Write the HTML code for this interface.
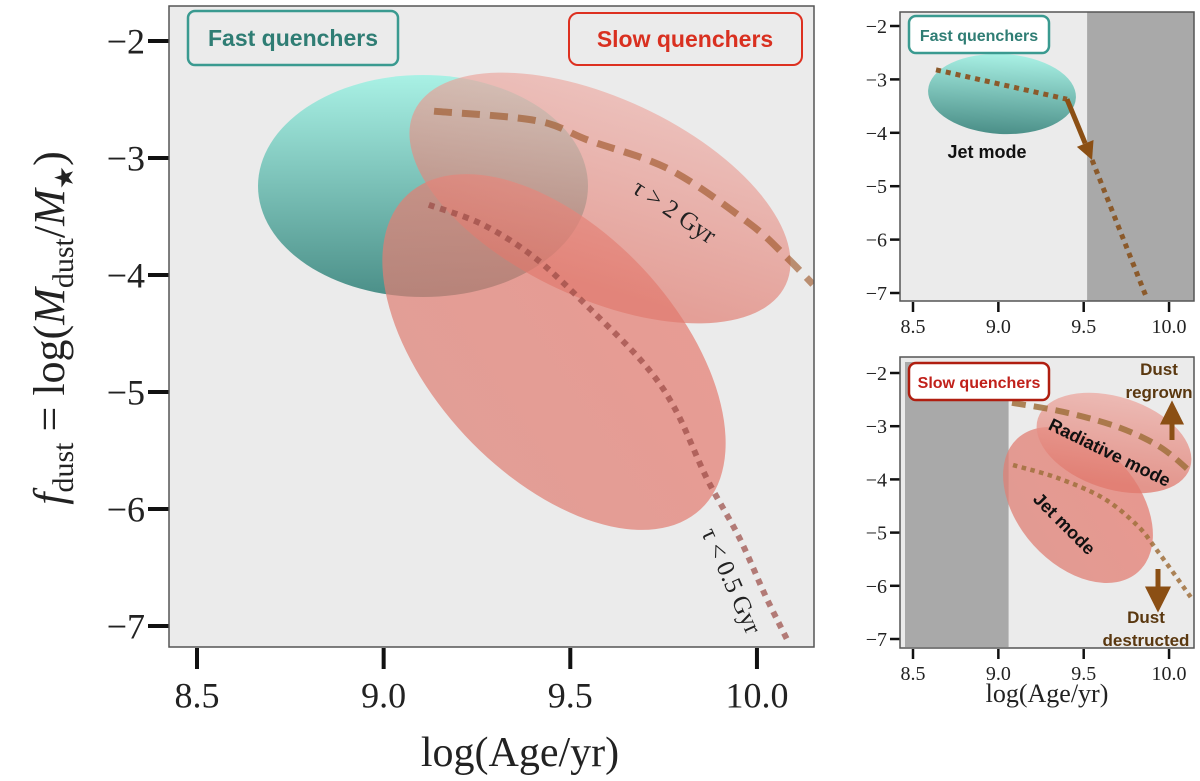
<!DOCTYPE html>
<html><head><meta charset="utf-8">
<style>
html,body{margin:0;padding:0;background:#fff;}
svg{display:block;}
.tk{font-family:"Liberation Serif",serif;fill:#222;}
.sans{font-family:"Liberation Sans",sans-serif;font-weight:bold;}
</style></head>
<body>
<svg id="fig" width="1200" height="781" viewBox="0 0 1200 781" xmlns="http://www.w3.org/2000/svg">
<defs>
<linearGradient id="gTeal" x1="0" y1="0" x2="0" y2="1"><stop offset="0" stop-color="#a9f1e5"/><stop offset="1" stop-color="#4b8f88"/></linearGradient>
<linearGradient id="gRed" x1="0" y1="0" x2="0.3" y2="1"><stop offset="0" stop-color="#eeb0a9"/><stop offset="1" stop-color="#e0786c"/></linearGradient>
<linearGradient id="gRed2" x1="0.3" y1="0" x2="0" y2="1"><stop offset="0" stop-color="#e57d72"/><stop offset="1" stop-color="#de8075"/></linearGradient>
<clipPath id="cMain"><rect x="169" y="6" width="645" height="641"/></clipPath>
<clipPath id="cTR"><rect x="900" y="12" width="294" height="289"/></clipPath>
<clipPath id="cBR"><rect x="900" y="357" width="294" height="291"/></clipPath>
</defs>
<g id="main"></g>
<g id="tr"></g>
<g id="br"></g>
</svg>
<script>
// ---- data ----
const xTicks = [8.5, 9.0, 9.5, 10.0];
const xTickLabels = ["8.5", "9.0", "9.5", "10.0"];
const yTicks = [-2, -3, -4, -5, -6, -7];
const yTickLabels = ["\u22122", "\u22123", "\u22124", "\u22125", "\u22126", "\u22127"];
// main panel curves
const slowAge = [9.135, 9.408, 9.55, 9.767, 9.98, 10.08, 10.15];
const slowFdust = [-2.60, -2.68, -2.85, -3.10, -3.56, -3.85, -4.08];
const fastAge = [9.121, 9.266, 9.408, 9.553, 9.695, 9.78, 9.866, 9.952, 10.024, 10.083];
const fastFdust = [-3.40, -3.57, -3.86, -4.29, -4.75, -5.14, -5.74, -6.24, -6.75, -7.13];
// top-right panel path
const trAge = [8.635, 9.402];
const trFdust = [-2.82, -3.37];
const trArrowAge = [9.402, 9.549];
const trArrowFdust = [-3.37, -4.51];
const trTailAge = [9.549, 9.871];
const trTailFdust = [-4.51, -7.11];
// bottom-right panel curves
const brDashAge = [9.08, 9.379, 9.695, 9.947, 10.134];
const brDashFdust = [-2.56, -2.73, -3.01, -3.39, -3.88];
const brDotAge = [9.086, 9.344, 9.613, 9.812, 9.929, 10.14];
const brDotFdust = [-3.73, -3.97, -4.35, -4.86, -5.33, -6.27];

const NS = "http://www.w3.org/2000/svg";
function mk(tag, attrs, parent, text){
  const e = document.createElementNS(NS, tag);
  for (const k in attrs) e.setAttribute(k, attrs[k]);
  if (text !== undefined) e.textContent = text;
  parent.appendChild(e);
  return e;
}
function axis(x0, xPer, y0, yPer){
  return {x: v => x0 + (v - 8.5) * xPer, y: v => y0 - (v + 2) * yPer};
}
function pathD(A, xs, ys){
  return xs.map((v,i)=>(i?"L":"M")+A.x(v).toFixed(1)+","+A.y(ys[i]).toFixed(1)).join(" ");
}
function smoothD(A, xs, ys){
  const p = xs.map((v,i)=>[A.x(v), A.y(ys[i])]);
  let d = "M"+p[0][0]+","+p[0][1];
  for (let i=0;i<p.length-1;i++){
    const p0=p[Math.max(0,i-1)], p1=p[i], p2=p[i+1], p3=p[Math.min(p.length-1,i+2)];
    const c1=[p1[0]+(p2[0]-p0[0])/6, p1[1]+(p2[1]-p0[1])/6];
    const c2=[p2[0]-(p3[0]-p1[0])/6, p2[1]-(p3[1]-p1[1])/6];
    d += " C"+c1[0].toFixed(1)+","+c1[1].toFixed(1)+" "+c2[0].toFixed(1)+","+c2[1].toFixed(1)+" "+p2[0].toFixed(1)+","+p2[1].toFixed(1);
  }
  return d;
}
function drawAxes(g, A, box, fs, tickLen, tickW, labelColor){
  const bg = mk("rect", {x:box[0], y:box[1], width:box[2]-box[0], height:box[3]-box[1], fill:"#ebebeb"}, g);
  
  
  xTicks.forEach((v,i)=>{
    const t = mk("line", {x1:A.x(v), x2:A.x(v), y1:box[3]+1, y2:box[3]+1+tickLen, stroke:"#111", "stroke-width":tickW}, g);
    
    
    const l = mk("text", {x:A.x(v), y:box[3]+tickLen+fs*1.1, "text-anchor":"middle", "font-size":fs, class:"tk", fill:labelColor}, g, xTickLabels[i]);
    
    
  });
  yTicks.forEach((v,i)=>{
    const t = mk("line", {x1:box[0]-tickLen, x2:box[0], y1:A.y(v), y2:A.y(v), stroke:"#111", "stroke-width":tickW}, g);
    
    
    const l = mk("text", {x:box[0]-tickLen-3, y:A.y(v)+fs*0.35, "text-anchor":"end", "font-size":fs, class:"tk"}, g, yTickLabels[i]);
    
    
  });
}
function frame(g, box){
  const f = mk("rect", {x:box[0], y:box[1], width:box[2]-box[0], height:box[3]-box[1], fill:"none", stroke:"#555", "stroke-width":1.5}, g);
  
  
}

// ---------- main panel ----------
(function(){
  const g = document.getElementById("main");
  const box = [169, 6, 814, 647];
  const A = axis(197, 373.3, 41, 117);
  drawAxes(g, A, box, 36, 21, 4, "#222");
  const c = mk("g", {"clip-path":"url(#cMain)"}, g);
  const e1 = mk("ellipse", {cx:423, cy:186, rx:165, ry:111, fill:"url(#gTeal)", opacity:1}, c);
  
  
  const e3 = mk("ellipse", {cx:0, cy:0, rx:215, ry:122, fill:"url(#gRed2)", opacity:0.72, transform:"translate(554,352) rotate(47)"}, c);
  
  
  const e2 = mk("ellipse", {cx:0, cy:0, rx:205, ry:100, fill:"url(#gRed)", opacity:0.66, transform:"translate(600,198) rotate(25)"}, c);
  
  
  const dash = mk("path", {d:smoothD(A, slowAge, slowFdust), fill:"none", stroke:"#9a5020", "stroke-width":7, "stroke-dasharray":"18 10", opacity:0.6}, c);
  
  
  const dot = mk("path", {d:smoothD(A, fastAge, fastFdust), fill:"none", stroke:"#9a4a44", "stroke-width":6, "stroke-dasharray":"6 6", opacity:0.7}, c);
  
  
  frame(g, box);
  const t1 = mk("text", {x:0, y:0, "font-size":25, class:"tk", fill:"#111", "text-anchor":"middle", transform:"translate(670,218) rotate(34)"}, g, "\u03c4 > 2 Gyr");
  
  
  const t2 = mk("text", {x:0, y:0, "font-size":25, class:"tk", fill:"#111", "text-anchor":"middle", transform:"translate(724,584) rotate(66)"}, g, "\u03c4 < 0.5 Gyr");
  
  
  const b1 = mk("rect", {x:188, y:11, width:210, height:54, rx:7, fill:"#ebebeb", stroke:"#3a9a90", "stroke-width":2.5}, g);
  
  
  const bt1 = mk("text", {x:293, y:46, "font-size":23, class:"sans", fill:"#2f7d74", "text-anchor":"middle"}, g, "Fast quenchers");
  
  
  const b2 = mk("rect", {x:569, y:13, width:233, height:52, rx:9, fill:"#ebebeb", stroke:"#dd3020", "stroke-width":2}, g);
  
  
  const bt2 = mk("text", {x:685, y:47, "font-size":23, class:"sans", fill:"#d93020", "text-anchor":"middle"}, g, "Slow quenchers");
  
  
  const xl = mk("text", {x:520, y:766, "font-size":42, class:"tk", "text-anchor":"middle"}, g, "log(Age/yr)");
  
  
  const yl = mk("text", {x:0, y:0, "font-size":44, class:"tk", "text-anchor":"middle", transform:"translate(64,328) rotate(-90)"}, g);
  
  
  yl.innerHTML = '<tspan font-style="italic">f</tspan><tspan font-size="30" dy="9">dust</tspan><tspan dy="-9"> = log(</tspan><tspan font-style="italic">M</tspan><tspan font-size="30" dy="9">dust</tspan><tspan dy="-9">/</tspan><tspan font-style="italic">M</tspan><tspan font-size="26" dy="9">\u2605</tspan><tspan dy="-9">)</tspan>';
})();

// ---------- top-right panel ----------
(function(){
  const g = document.getElementById("tr");
  const box = [900, 12, 1194, 301];
  const A = axis(913, 170.7, 26, 53.4);
  drawAxes(g, A, box, 20, 10, 2.5, "#333");
  const c = mk("g", {"clip-path":"url(#cTR)"}, g);
  const gr = mk("rect", {x:A.x(9.52), y:box[1], width:box[2]-A.x(9.52), height:box[3]-box[1], fill:"#a9a9a9"}, c);
  
  
  const e = mk("ellipse", {cx:0, cy:0, rx:74, ry:40, fill:"url(#gTeal)", transform:"translate(1002,94) rotate(3)"}, c);
  
  
  const p1 = mk("path", {d:pathD(A, trAge, trFdust), fill:"none", stroke:"#8b5a2b", "stroke-width":5, "stroke-dasharray":"5 5"}, c);
  
  
  const p2 = mk("path", {d:pathD(A, trTailAge, trTailFdust), fill:"none", stroke:"#8b5a2b", "stroke-width":5, "stroke-dasharray":"5 5"}, c);
  
  
  const ax0=A.x(trArrowAge[0]), ay0=A.y(trArrowFdust[0]), ax1=A.x(trArrowAge[1]), ay1=A.y(trArrowFdust[1]);
  const ang = Math.atan2(ay1-ay0, ax1-ax0);
  const hx = ax1-18*Math.cos(ang), hy = ay1-18*Math.sin(ang);
  const ar = mk("line", {x1:ax0, y1:ay0, x2:hx, y2:hy, stroke:"#8b4f14", "stroke-width":5}, c);
  
  
  const px=-Math.sin(ang), py=Math.cos(ang);
  const ah = mk("polygon", {points:`${ax1},${ay1} ${hx+9*px},${hy+9*py} ${hx-9*px},${hy-9*py}`, fill:"#8b4f14"}, c);
  
  
  frame(g, box);
  const jt = mk("text", {x:987, y:158, "font-size":18, class:"sans", fill:"#111", "text-anchor":"middle"}, g, "Jet mode");
  
  
  const b = mk("rect", {x:909, y:16, width:140, height:37, rx:7, fill:"#fff", stroke:"#3a9a90", "stroke-width":2.5}, g);
  
  
  const bt = mk("text", {x:979, y:41, "font-size":16, class:"sans", fill:"#2f7d74", "text-anchor":"middle"}, g, "Fast quenchers");
  
  
})();

// ---------- bottom-right panel ----------
(function(){
  const g = document.getElementById("br");
  const box = [900, 357, 1194, 648];
  const A = axis(913, 170.7, 373, 53.2);
  drawAxes(g, A, box, 20, 10, 2.5, "#555");
  const c = mk("g", {"clip-path":"url(#cBR)"}, g);
  const gr = mk("rect", {x:905, y:362, width:A.x(9.06)-905, height:285, fill:"#a9a9a9"}, c);
  
  
  const ej = mk("ellipse", {cx:0, cy:0, rx:90, ry:60, fill:"url(#gRed2)", opacity:0.75, transform:"translate(1078,505) rotate(48)"}, c);
  
  
  const er = mk("ellipse", {cx:0, cy:0, rx:80, ry:46, fill:"url(#gRed)", opacity:0.75, transform:"translate(1114,443) rotate(18)"}, c);
  
  
  const d1 = mk("path", {d:smoothD(A, brDashAge, brDashFdust), fill:"none", stroke:"#a0703c", "stroke-width":6, "stroke-dasharray":"14 8", opacity:0.85}, c);
  
  
  const d2 = mk("path", {d:smoothD(A, brDotAge, brDotFdust), fill:"none", stroke:"#a0703c", "stroke-width":4.5, "stroke-dasharray":"4.5 4.5", opacity:0.85}, c);
  
  
  frame(g, box);
  const up = mk("path", {d:"M1172,440 L1172,420 M1164,422 L1172,406 L1180,422 Z", stroke:"#8b4f14", "stroke-width":5, fill:"#8b4f14"}, g);
  
  
  const dn = mk("path", {d:"M1158,569 L1158,590 M1149,589 L1158,607 L1167,589 Z", stroke:"#8b4f14", "stroke-width":5, fill:"#8b4f14"}, g);
  
  
  const tx = [["Dust",1159,375,"dust-regrown-label"],["regrown",1159,398,"dust-regrown-label"],["Dust",1146,623,"dust-destructed-label"],["destructed",1146,646,"dust-destructed-label"]];
  tx.forEach(t=>{
    const e = mk("text", {x:t[1], y:t[2], "font-size":17, class:"sans", fill:"#5a3810", "text-anchor":"middle"}, g, t[0]);
    
    
  });
  const rt = mk("text", {x:0, y:0, "font-size":18, class:"sans", fill:"#111", "text-anchor":"middle", transform:"translate(1107,458) rotate(26)"}, g, "Radiative mode");
  
  
  const jt = mk("text", {x:0, y:0, "font-size":18, class:"sans", fill:"#111", "text-anchor":"middle", transform:"translate(1060,528) rotate(45)"}, g, "Jet mode");
  
  
  const b = mk("rect", {x:909, y:363, width:140, height:37, rx:7, fill:"#fff", stroke:"#b01e10", "stroke-width":2.5}, g);
  
  
  const bt = mk("text", {x:979, y:388, "font-size":16, class:"sans", fill:"#c0201a", "text-anchor":"middle"}, g, "Slow quenchers");
  
  
  const xl = mk("text", {x:1047, y:702, "font-size":26, class:"tk", fill:"#666", "text-anchor":"middle"}, g, "log(Age/yr)");
  
  
})();
</script>
</body></html>
